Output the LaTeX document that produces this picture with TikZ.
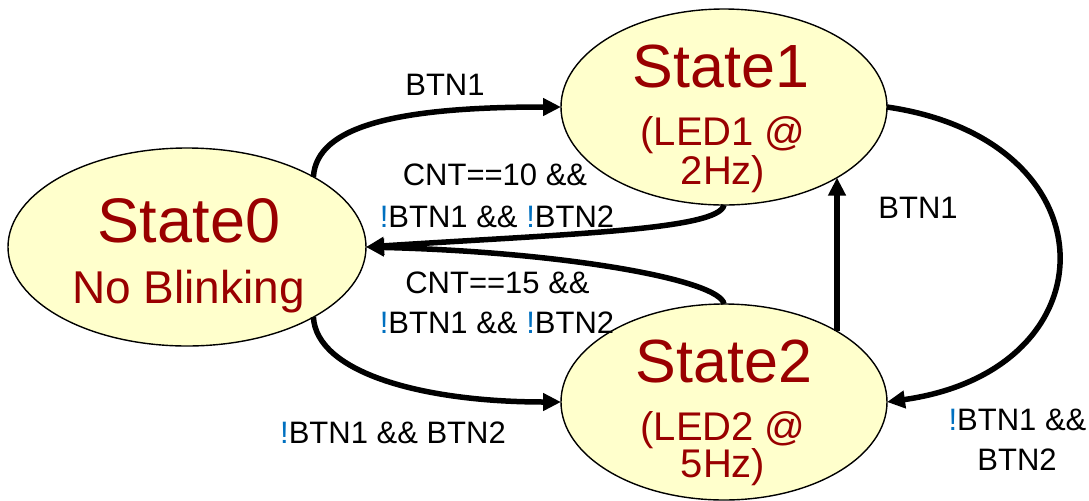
\documentclass[tikz,border=0pt]{standalone}
\usepackage{fontspec}
\setmainfont{Liberation Sans}
\usetikzlibrary{arrows.meta,shapes.geometric}
\definecolor{stfill}{RGB}{255,255,204}
\definecolor{sttext}{RGB}{153,0,0}
\definecolor{exbl}{RGB}{0,112,192}
\newcommand{\nt}{\textcolor{exbl}{!}}
\begin{document}
\begin{tikzpicture}[x=0.5pt,y=-0.5pt,
  state/.style={ellipse,draw=black,line width=0.7pt,fill=stfill,inner sep=0pt,outer sep=0pt},
  ttlbig/.style={anchor=base,text=sttext,font=\fontsize{31.5}{31.5}\selectfont,inner sep=0pt},
  ttl/.style={anchor=base,text=sttext,font=\fontsize{30.5}{30.5}\selectfont,inner sep=0pt},
  subbig/.style={anchor=base,text=sttext,font=\fontsize{23}{23}\selectfont,inner sep=0pt},
  sub/.style={anchor=base,text=sttext,font=\fontsize{20}{20}\selectfont,inner sep=0pt,text height=14.5pt,text depth=2pt},
  lbl/.style={anchor=base,font=\fontsize{15.5}{15.5}\selectfont,inner sep=0pt},
  tr/.style={line width=2.75pt,-{Triangle[length=9pt,width=8.5pt]}}]
\useasboundingbox (0,0) rectangle (1089,500);
% states
\node[state,minimum width=179pt,minimum height=99pt] (s0) at (187,247) {};
\node[state,minimum width=163pt,minimum height=98pt] (s1) at (724,107) {};
\node[state,minimum width=163pt,minimum height=98pt] (s2) at (724,402) {};
% state texts
\node[ttlbig] (s0a) at (189,242) {State0};
\node[subbig] (s0b) at (188.5,303) {No Blinking};
\node[ttl] (s1a) at (721,87) {State1};
\node[sub] (s1b) at (723,145.5) {(LED1 @};
\node[sub] (s1c) at (723,184) {2Hz)};
\node[ttl] (s2a) at (724,382) {State2};
\node[sub] (s2b) at (723,440) {(LED2 @};
\node[sub] (s2c) at (723,477) {5Hz)};
% transitions
\draw[tr] (s0.29) .. controls +(3,-52) and +(-160,0) .. (s1.west);
\draw[tr] (s1.south) .. controls +(-5,25) and +(200,-13) .. (s0.east);
\draw[tr] (s2.north) .. controls +(-4,-24) and +(200,5) .. (s0.east);
\draw[tr] (s0.-29) .. controls +(3,55) and +(-140,0) .. (s2.west);
\draw[tr] (s2.32) -- (s1.-32);
\draw[tr] (s1.east) .. controls +(228,33) and +(228,-32) .. (s2.east);
% labels
\node[lbl] (l1) at (445,95) {BTN1};
\node[lbl] (l2a) at (495,185) {CNT==10 \&\&};
\node[lbl] (l2b) at (497,227) {\nt BTN1 \&\& \nt BTN2};
\node[lbl] (l3a) at (497.5,293) {CNT==15 \&\&};
\node[lbl] (l3b) at (497,333) {\nt BTN1 \&\& \nt BTN2};
\node[lbl] (l4) at (393,443) {\nt BTN1 \&\& BTN2};
\node[lbl] (l5) at (918,218) {BTN1};
\node[lbl] (l6a) at (1017.5,430) {\nt BTN1 \&\&};
\node[lbl] (l6b) at (1017,470) {BTN2};
\end{tikzpicture}
\end{document}
